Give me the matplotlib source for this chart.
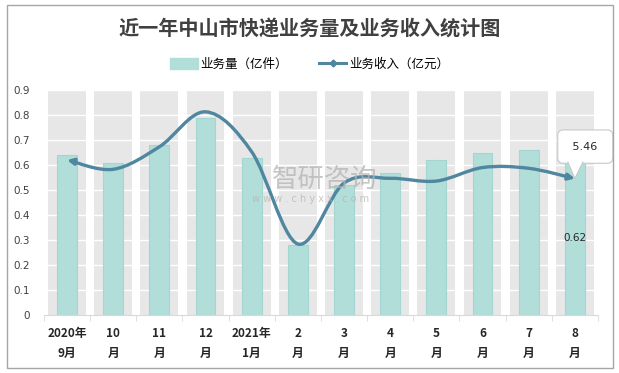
import numpy as np
import matplotlib
matplotlib.use("Agg")
import matplotlib.pyplot as plt
import matplotlib.transforms as mtransforms
from matplotlib.path import Path
from matplotlib.patches import FancyArrowPatch, Rectangle, Polygon, Patch
from matplotlib.lines import Line2D

plt.rcParams['font.family'] = ['Noto Sans CJK SC', 'DejaVu Sans']

# ── Data ──────────────────────────────────────────────────
months   = ["2020年\n9月", "10\n月", "11\n月", "12\n月", "2021年\n1月", "2\n月",
            "3\n月", "4\n月", "5\n月", "6\n月", "7\n月", "8\n月"]
volume   = [0.64, 0.61, 0.68, 0.79, 0.63, 0.28, 0.52, 0.57, 0.62, 0.65, 0.66, 0.62]
income   = [6.20, 5.83, 6.73, 8.13, 6.53, 2.84, 5.28, 5.47, 5.36, 5.90, 5.87, 5.46]
y_ticks  = [0, 0.1, 0.2, 0.3, 0.4, 0.5, 0.6, 0.7, 0.8, 0.9]
Y_MAX    = 0.9
Y2_MAX   = 9.0

BAR_C  = "#B2DEDA"
BAR_E  = "#A3D6D1"
LINE_C = "#4F87A0"
BAND_C = "#E7E7E7"
BOX_E  = "#C8C8C8"


def smooth_path(xs, ys):
    # Excel-like smoothed line: Catmull-Rom segments as cubic Beziers
    p = np.column_stack([xs, ys]).astype(float)
    n = len(p)
    verts = [p[0]]
    codes = [Path.MOVETO]
    for i in range(n - 1):
        p0 = p[max(i - 1, 0)]
        p1 = p[i]
        p2 = p[i + 1]
        p3 = p[min(i + 2, n - 1)]
        c1 = p1 + (p2 - p0) / 6.0
        c2 = p2 - (p3 - p1) / 6.0
        verts += [c1, c2, p2]
        codes += [Path.CURVE4] * 3
    return Path(verts, codes)


fig = plt.figure(figsize=(6.19, 3.73), dpi=100)
fig.patches.append(Rectangle((0.012, 0.014), 0.978, 0.972, transform=fig.transFigure,
                             fill=False, ec="#A6A6A6", lw=1.0))

ax = fig.add_axes([0.071, 0.1555, 0.895, 0.603])
x = np.arange(len(months))

# ── Background bands + gridlines + bars ───────────────────
ax.bar(x, [Y_MAX] * len(x), width=0.82, color=BAND_C, zorder=0)
for t in y_ticks[1:]:
    ax.axhline(t, color="white", lw=1.0, zorder=1)
ax.bar(x, volume, width=0.43, color=BAR_C, edgecolor=BAR_E, lw=0.8, zorder=2)

ax.set_xlim(-0.5, len(x) - 0.5)
ax.set_ylim(0, Y_MAX)
ax.set_yticks(y_ticks)
ax.set_yticklabels([f"{t:g}" for t in y_ticks], fontsize=7.5, color="#404040",
                   family=['DejaVu Sans'])
ax.set_xticks(x)
ax.set_xticklabels(months, fontsize=8.5, fontweight="bold", color="#262626",
                   linespacing=1.6)
ax.tick_params(axis="y", length=0, pad=10)
ax.tick_params(axis="x", length=0, pad=9)
ax.set_xticks(np.arange(-0.5, len(x)), minor=True)
ax.tick_params(axis="x", which="minor", length=4, color="#D9D9D9")
for s in ["top", "right", "left"]:
    ax.spines[s].set_visible(False)
ax.spines["bottom"].set_color("#D9D9D9")

ax.text(x[-1], volume[-1] / 2, f"{volume[-1]:.2f}", ha="center", va="center",
        fontsize=7.5, color="#262626", family=['DejaVu Sans'], zorder=5)

# ── Income line on hidden secondary axis ──────────────────
ax2 = ax.twinx()
ax2.set_ylim(0, Y2_MAX)
ax2.axis("off")
path = smooth_path(x, income)
arrow = FancyArrowPatch(path=path, arrowstyle="<|-|>", mutation_scale=9,
                        color=LINE_C, lw=2.4, zorder=4)
ax2.add_patch(arrow)

# callout for last income value
ax2.annotate(f" {income[-1]:.2f} ", xy=(x[-1], income[-1]), xytext=(7.5, 23),
             textcoords="offset points", ha="center", va="center", fontsize=8,
             color="#262626", family=['DejaVu Sans'], zorder=6,
             bbox=dict(boxstyle="round,pad=1.05,rounding_size=0.5", fc="white",
                       ec=BOX_E, lw=0.8))
pt_tr = fig.dpi_scale_trans + mtransforms.ScaledTranslation(
    x[-1], income[-1], ax2.transData)
tri = [(-0.07, 0.165), (0.0, 0.0), (0.08, 0.165)]
ax2.add_patch(Polygon(tri, closed=True, fc="white", ec="none", transform=pt_tr,
                      zorder=7, clip_on=False))
ax2.add_line(Line2D([v[0] for v in tri], [v[1] for v in tri], color=BOX_E, lw=0.8,
                    transform=pt_tr, zorder=7, clip_on=False))

# ── Watermark ─────────────────────────────────────────────
fig.text(0.525, 0.518, "智研咨询", fontsize=19, color="#B4B4B4", alpha=0.75,
         ha="center", va="center")
fig.text(0.502, 0.466, "w w w . c h y x x . c o m", fontsize=7, color="#B4B4B4",
         alpha=0.75, ha="center", va="center", family=['DejaVu Sans'])

# ── Title + legend ────────────────────────────────────────
fig.text(0.5, 0.922, "近一年中山市快递业务量及业务收入统计图", fontsize=14.5,
         fontweight="bold", color="#404040", ha="center", va="center")
handles = [Patch(facecolor=BAR_C, edgecolor=BAR_C),
           Line2D([0], [0], color=LINE_C, lw=2.2, marker="D", markersize=3.5)]
fig.legend(handles, ["业务量（亿件）", "业务收入（亿元）"], loc="center",
           bbox_to_anchor=(0.5, 0.828), ncol=2, frameon=False, fontsize=9,
           handlelength=2.2, handleheight=0.9, columnspacing=2.5, handletextpad=0.2)

fig.savefig("out.png", dpi=100)
